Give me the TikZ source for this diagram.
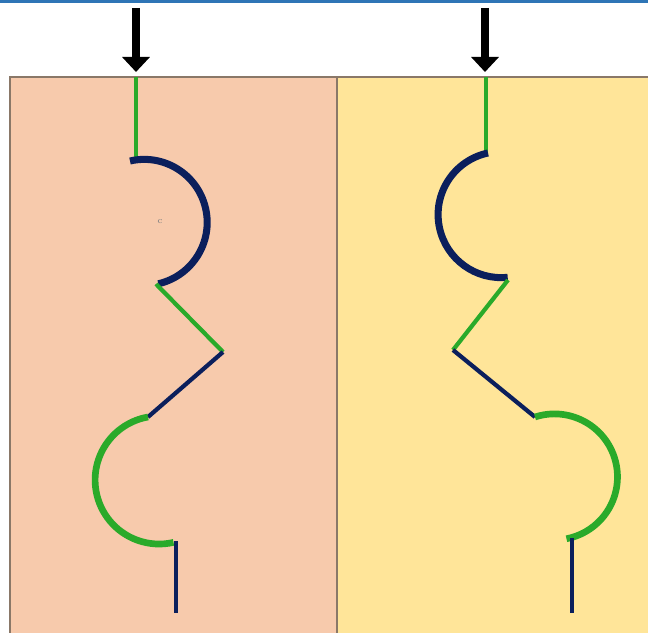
\documentclass[tikz,border=0pt]{standalone}
\usetikzlibrary{arrows.meta}
\definecolor{peach}{HTML}{F7CAAC}
\definecolor{sand}{HTML}{FFE599}
\definecolor{navy}{HTML}{0B1F5C}
\definecolor{leaf}{HTML}{2AAA2A}
\definecolor{rim}{HTML}{8A7868}
\definecolor{topline}{HTML}{2E75B6}
\begin{document}
\begin{tikzpicture}[x=0.02cm, y=0.02cm]
\tikzstyle{panel}=[draw=rim, line width=0.8pt]
\tikzstyle{pusharrow}=[line width=4.2pt, -{Triangle[width=0.54cm, length=0.3cm]}]
\tikzstyle{greenseg}=[draw=leaf, line width=2.4pt]
\tikzstyle{navyseg}=[draw=navy, line width=2.4pt]
\tikzstyle{greenarc}=[draw=leaf, line width=3.8pt]
\tikzstyle{navyarc}=[draw=navy, line width=4pt]
\useasboundingbox (0,0) rectangle (648,632);
\fill[topline] (0,629) rectangle (648,632);
\filldraw[panel, fill=peach] (10,-2) rectangle (337,555);
\filldraw[panel, fill=sand] (337,-2) rectangle (652,555);

% left panel
\coordinate (la) at (136,624);
\coordinate (lb) at (136,560);
\coordinate (l0) at (136,555);
\coordinate (l1) at (136,474);
\coordinate (l2) at (130,471);
\coordinate (l3) at (156,348);
\coordinate (l4) at (223,280);
\coordinate (l5) at (148,215);
\coordinate (l6) at (176,91);
\coordinate (l7) at (176,19);
\draw[pusharrow] (la) -- (lb);
\draw[greenseg] (l0) -- (l1);
\draw[navyarc] (l2) arc[start angle=103, end angle=-77, radius=63];
\draw[greenseg] (l3) -- (l4);
\draw[navyseg] (l4) -- (l5);
\draw[greenarc] (l5) arc[start angle=100, end angle=283, radius=64];
\draw[navyseg, line width=2.8pt] (l6) -- (l7);
\node[text=gray, font=\tiny, inner sep=0pt] (mark) at (160,410) {c};

% right panel
\coordinate (ra) at (485,624);
\coordinate (rb) at (485,560);
\coordinate (r0) at (486,555);
\coordinate (r1) at (486,477);
\coordinate (r2) at (488,479);
\coordinate (r3) at (508,352);
\coordinate (r4) at (453,282);
\coordinate (r5) at (535,215);
\coordinate (r6) at (572,94);
\coordinate (r7) at (572,19);
\draw[pusharrow] (ra) -- (rb);
\draw[greenseg] (r0) -- (r1);
\draw[navyarc] (r2) arc[start angle=102, end angle=276, radius=63];
\draw[greenseg] (r3) -- (r4);
\draw[navyseg] (r4) -- (r5);
\draw[greenarc] (r5) arc[start angle=108, end angle=-79, radius=63];
\draw[navyseg, line width=2.8pt] (r6) -- (r7);
\end{tikzpicture}
\end{document}
